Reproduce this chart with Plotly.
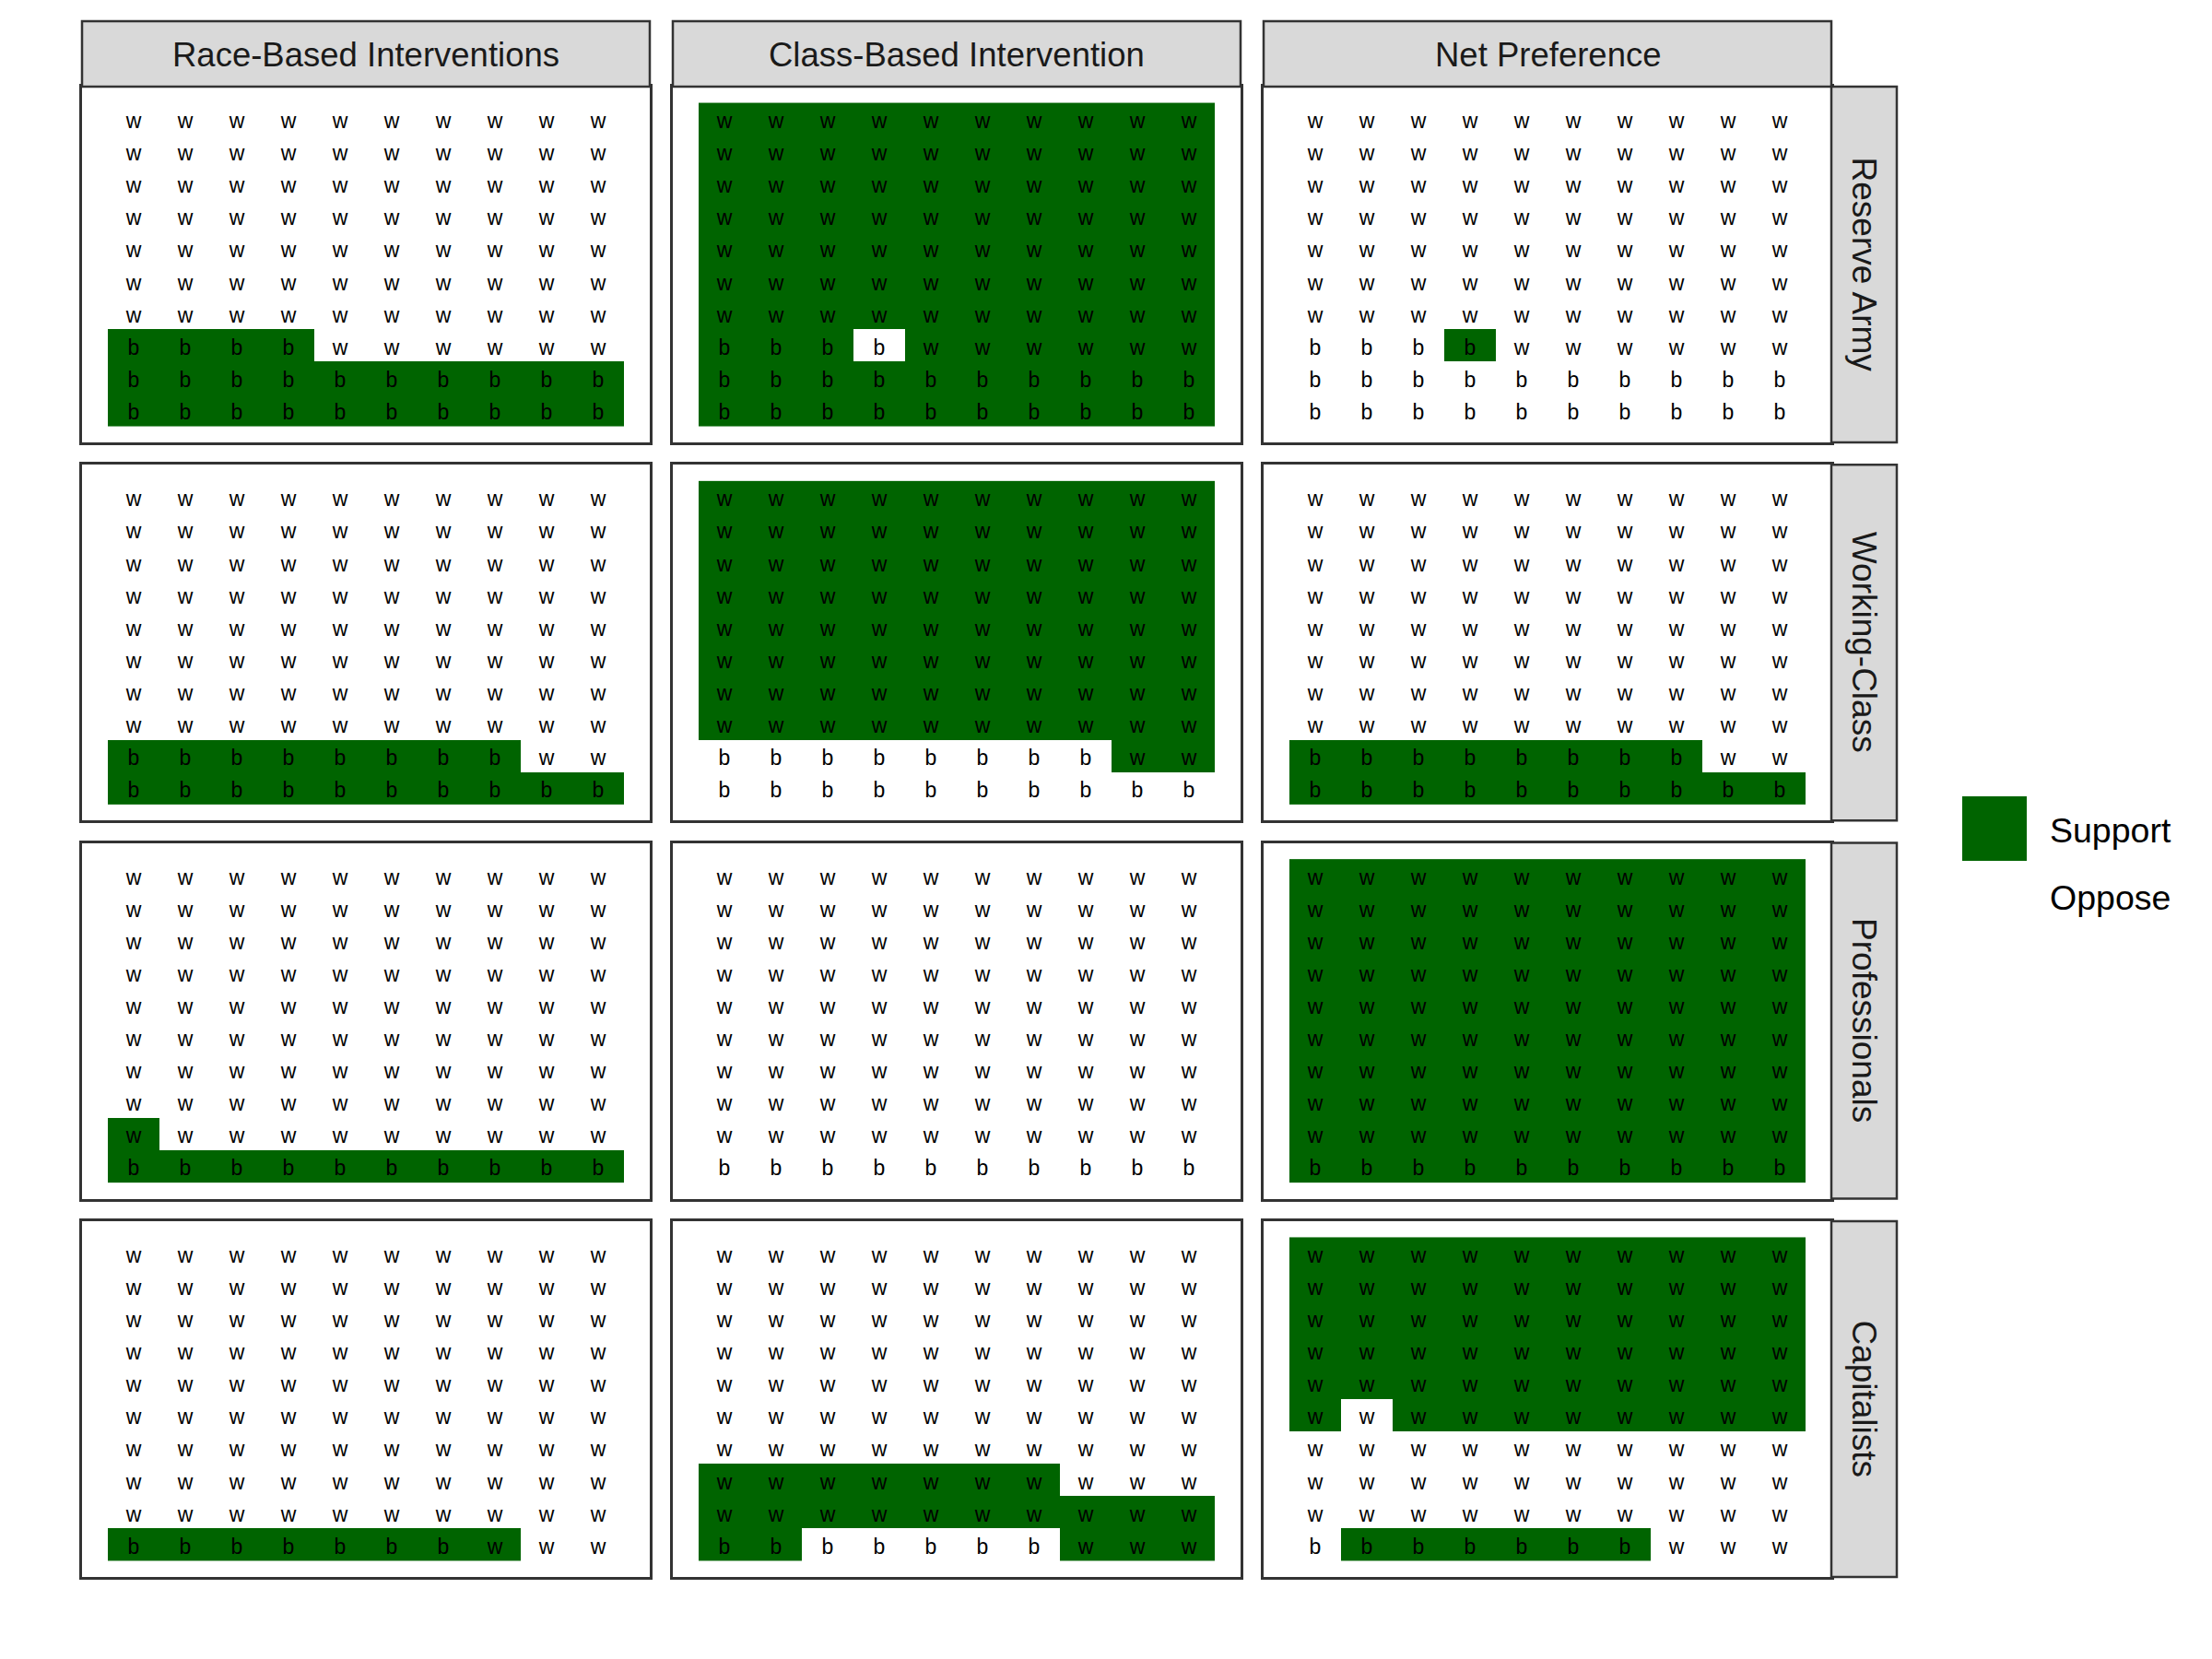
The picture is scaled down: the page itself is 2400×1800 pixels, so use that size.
import plotly.graph_objects as go

# ---------------- data ----------------
groups = ["Reserve Army", "Working-Class", "Professionals", "Capitalists"]
interventions = ["Race-Based Interventions", "Class-Based Intervention", "Net Preference"]
legend_labels = ["Support", "Oppose"]
grid_cols = [1, 2, 3, 4, 5, 6, 7, 8, 9, 10]
grid_rows = [1, 2, 3, 4, 5, 6, 7, 8, 9, 10]

# composition of each group (top row first): w = white, b = black
letters_reserve_army = [
    "wwwwwwwwww", "wwwwwwwwww", "wwwwwwwwww", "wwwwwwwwww", "wwwwwwwwww",
    "wwwwwwwwww", "wwwwwwwwww", "bbbbwwwwww", "bbbbbbbbbb", "bbbbbbbbbb",
]
letters_working_class = [
    "wwwwwwwwww", "wwwwwwwwww", "wwwwwwwwww", "wwwwwwwwww", "wwwwwwwwww",
    "wwwwwwwwww", "wwwwwwwwww", "wwwwwwwwww", "bbbbbbbbww", "bbbbbbbbbb",
]
letters_professionals = [
    "wwwwwwwwww", "wwwwwwwwww", "wwwwwwwwww", "wwwwwwwwww", "wwwwwwwwww",
    "wwwwwwwwww", "wwwwwwwwww", "wwwwwwwwww", "wwwwwwwwww", "bbbbbbbbbb",
]
letters_capitalists = [
    "wwwwwwwwww", "wwwwwwwwww", "wwwwwwwwww", "wwwwwwwwww", "wwwwwwwwww",
    "wwwwwwwwww", "wwwwwwwwww", "wwwwwwwwww", "wwwwwwwwww", "bbbbbbbwww",
]

# support (1) / oppose (0), top row first
support_reserve_race = [
    "0000000000", "0000000000", "0000000000", "0000000000", "0000000000",
    "0000000000", "0000000000", "1111000000", "1111111111", "1111111111",
]
support_reserve_class = [
    "1111111111", "1111111111", "1111111111", "1111111111", "1111111111",
    "1111111111", "1111111111", "1110111111", "1111111111", "1111111111",
]
support_reserve_net = [
    "0000000000", "0000000000", "0000000000", "0000000000", "0000000000",
    "0000000000", "0000000000", "0001000000", "0000000000", "0000000000",
]
support_working_race = [
    "0000000000", "0000000000", "0000000000", "0000000000", "0000000000",
    "0000000000", "0000000000", "0000000000", "1111111100", "1111111111",
]
support_working_class = [
    "1111111111", "1111111111", "1111111111", "1111111111", "1111111111",
    "1111111111", "1111111111", "1111111111", "0000000011", "0000000000",
]
support_working_net = [
    "0000000000", "0000000000", "0000000000", "0000000000", "0000000000",
    "0000000000", "0000000000", "0000000000", "1111111100", "1111111111",
]
support_prof_race = [
    "0000000000", "0000000000", "0000000000", "0000000000", "0000000000",
    "0000000000", "0000000000", "0000000000", "1000000000", "1111111111",
]
support_prof_class = [
    "0000000000", "0000000000", "0000000000", "0000000000", "0000000000",
    "0000000000", "0000000000", "0000000000", "0000000000", "0000000000",
]
support_prof_net = [
    "1111111111", "1111111111", "1111111111", "1111111111", "1111111111",
    "1111111111", "1111111111", "1111111111", "1111111111", "1111111111",
]
support_cap_race = [
    "0000000000", "0000000000", "0000000000", "0000000000", "0000000000",
    "0000000000", "0000000000", "0000000000", "0000000000", "1111111100",
]
support_cap_class = [
    "0000000000", "0000000000", "0000000000", "0000000000", "0000000000",
    "0000000000", "0000000000", "1111111000", "1111111111", "1100000111",
]
support_cap_net = [
    "1111111111", "1111111111", "1111111111", "1111111111", "1111111111",
    "1011111111", "0000000000", "0000000000", "0000000000", "0111111000",
]

letters_by_group = {
    "Reserve Army": letters_reserve_army,
    "Working-Class": letters_working_class,
    "Professionals": letters_professionals,
    "Capitalists": letters_capitalists,
}
support_by_panel = {
    "Reserve Army": [support_reserve_race, support_reserve_class, support_reserve_net],
    "Working-Class": [support_working_race, support_working_class, support_working_net],
    "Professionals": [support_prof_race, support_prof_class, support_prof_net],
    "Capitalists": [support_cap_race, support_cap_class, support_cap_net],
}

# ---------------- layout constants (pixels) ----------------
W, H = 2400, 1800
col_left = [89, 730, 1371]
panel_w = 616
row_top = [94, 504.3, 914.6, 1324.9]
panel_h = 386
strip_size = 71
GREEN = "#006400"
BORDER = "#333333"
STRIP_FILL = "#D9D9D9"
FONT = "Liberation Sans, Arial, sans-serif"
TEXT_SHIFT = 0.12  # vertical offset of the text layer (axis units)


def px(xp):
    return xp / W


def py(yp):
    return 1 - yp / H


fig = go.Figure()
layout_axes = {}
n_panels = len(groups) * len(interventions)
for i, g in enumerate(groups):
    for j, iv in enumerate(interventions):
        k = i * 3 + j + 1
        sfx = "" if k == 1 else str(k)
        xa, ya = "x" + sfx, "y" + sfx
        ta = "y" + str(k + n_panels)
        support = support_by_panel[g][j]
        letters = letters_by_group[g]
        z = [[int(ch) for ch in row] for row in reversed(support)]
        fig.add_trace(go.Heatmap(
            z=z, x=grid_cols, y=grid_rows, zmin=0, zmax=1,
            colorscale=[[0, "white"], [1, GREEN]], showscale=False,
            xaxis=xa, yaxis=ya, hoverinfo="skip",
        ))
        tx, ty, tt = [], [], []
        for r, row in enumerate(letters):
            for c, ch in enumerate(row):
                tx.append(grid_cols[c])
                ty.append(grid_rows[len(letters) - 1 - r])
                tt.append(ch)
        fig.add_trace(go.Scatter(
            x=tx, y=ty, text=tt, mode="text",
            textfont=dict(size=23, color="black", family=FONT),
            textposition="middle center",
            xaxis=xa, yaxis=ta, showlegend=False, hoverinfo="skip",
        ))
        l = col_left[j]
        t = row_top[i]
        axis_common = dict(
            range=[0, 11], showgrid=False, zeroline=False, showticklabels=False,
            ticks="", showline=True, mirror=True, linecolor=BORDER, linewidth=2.5,
            fixedrange=True,
        )
        layout_axes["xaxis" + sfx] = dict(domain=[px(l), px(l + panel_w)], anchor=ya, **axis_common)
        layout_axes["yaxis" + sfx] = dict(domain=[py(t + panel_h), py(t)], anchor=xa, **axis_common)
        layout_axes["yaxis" + str(k + n_panels)] = dict(
            domain=[py(t + panel_h), py(t)], anchor=xa, overlaying=ya,
            range=[TEXT_SHIFT, 11 + TEXT_SHIFT], visible=False, fixedrange=True,
        )

fig.update_layout(**layout_axes)

shapes = []
annotations = []
# top strips
for j, iv in enumerate(interventions):
    l = col_left[j]
    shapes.append(dict(type="rect", xref="paper", yref="paper",
                       x0=px(l), x1=px(l + panel_w), y0=py(row_top[0]), y1=py(row_top[0] - strip_size),
                       fillcolor=STRIP_FILL, line=dict(color=BORDER, width=2.5)))
    annotations.append(dict(text=iv, xref="paper", yref="paper",
                            x=px(l + panel_w / 2), y=py(row_top[0] - strip_size / 2 + 1.5),
                            showarrow=False, xanchor="center", yanchor="middle",
                            font=dict(size=36.5, color="#1A1A1A", family=FONT)))
# right strips
right_l = col_left[2] + panel_w
for i, g in enumerate(groups):
    t = row_top[i]
    shapes.append(dict(type="rect", xref="paper", yref="paper",
                       x0=px(right_l), x1=px(right_l + strip_size), y0=py(t + panel_h), y1=py(t),
                       fillcolor=STRIP_FILL, line=dict(color=BORDER, width=2.5)))
    annotations.append(dict(text=g, xref="paper", yref="paper",
                            x=px(right_l + strip_size / 2), y=py(t + panel_h / 2),
                            showarrow=False, xanchor="center", yanchor="middle", textangle=90,
                            font=dict(size=37, color="#1A1A1A", family=FONT)))
# legend
leg_key_x = 2129
leg_key_size = 70
leg_y = [864, 937]
leg_colors = [GREEN, "white"]
for n, lab in enumerate(legend_labels):
    shapes.append(dict(type="rect", xref="paper", yref="paper",
                       x0=px(leg_key_x), x1=px(leg_key_x + leg_key_size),
                       y0=py(leg_y[n] + leg_key_size), y1=py(leg_y[n]),
                       fillcolor=leg_colors[n], line=dict(width=0)))
    annotations.append(dict(text=lab, xref="paper", yref="paper",
                            x=px(2222), y=py(leg_y[n] + leg_key_size / 2 + 1.5),
                            showarrow=False, xanchor="left", yanchor="middle",
                            font=dict(size=37.5, color="black", family=FONT)))

fig.update_layout(
    width=W, height=H, margin=dict(l=0, r=0, t=0, b=0),
    paper_bgcolor="white", plot_bgcolor="white",
    shapes=shapes, annotations=annotations, showlegend=False,
)
fig.write_html("out.html")
